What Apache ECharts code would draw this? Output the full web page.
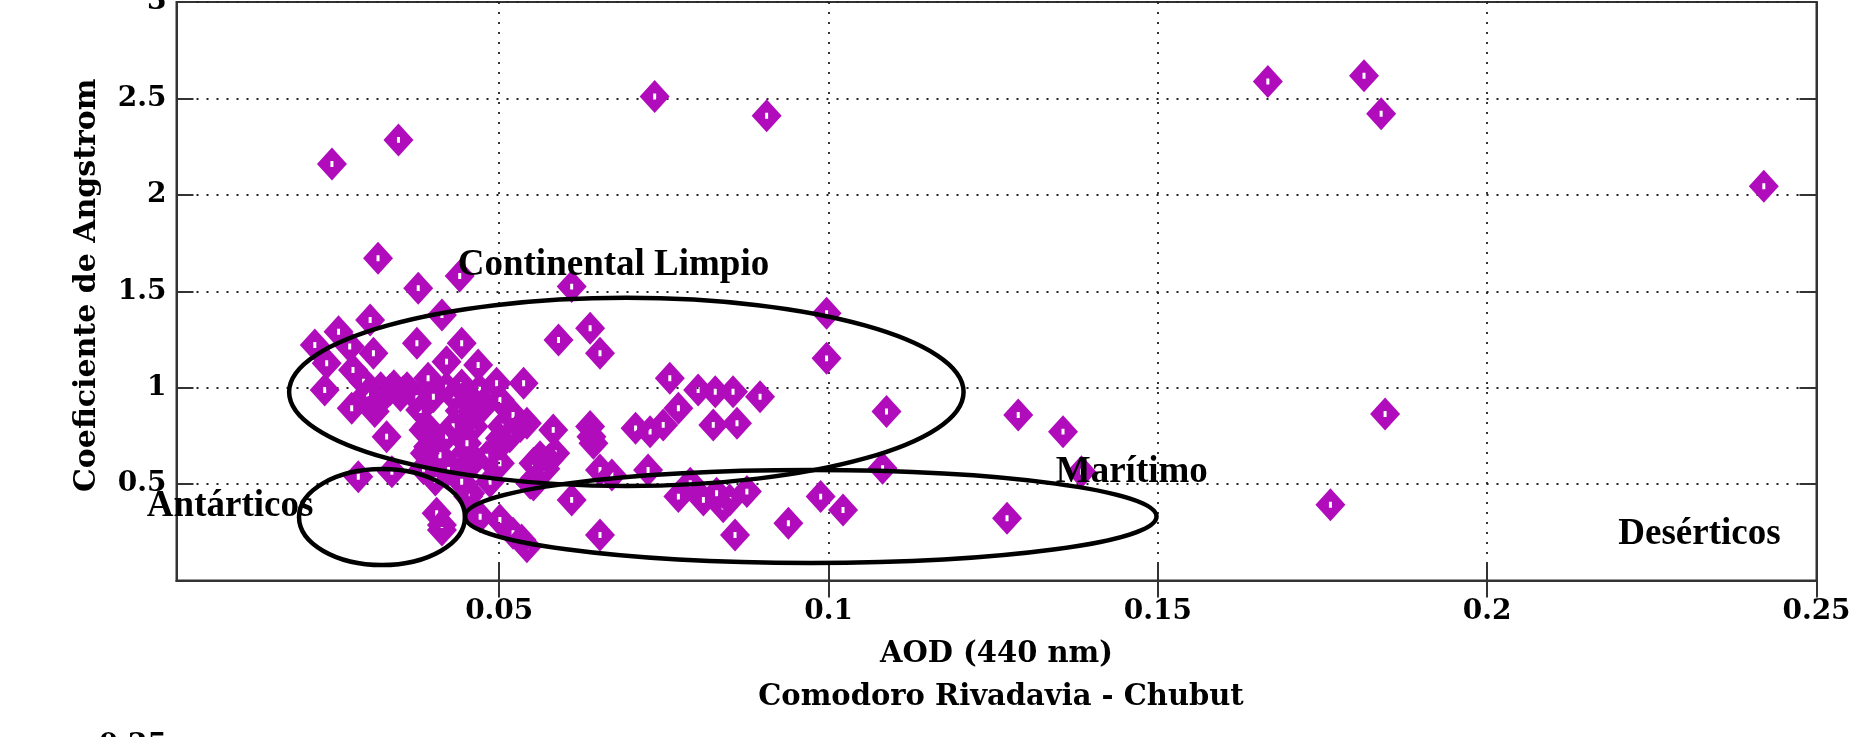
<!DOCTYPE html>
<html><head><meta charset="utf-8">
<script src="https://cdn.jsdelivr.net/npm/echarts@6/dist/echarts.min.js"></script>
<style>html,body{margin:0;padding:0;background:#fff}#c{width:1867px;height:737px}</style>
</head><body><div id="c"></div>
<script>
// AOD (440 nm) values
const aod = [
0.0246,0.0347,0.0736,0.0906,0.1667,0.1813,0.1839,0.2420,0.1845,0.1762,0.1288,0.1356,0.1384,0.1271,0.1088,0.1082,0.0997,0.0997,0.0988,0.1022,0.0939,0.0858,
0.0610,0.0316,0.0377,0.0440,0.0413,0.0590,0.0638,0.0653,0.0759,0.0802,0.0828,0.0855,0.0896,0.0772,0.0825,0.0861,0.0707,0.0729,0.0749,0.0582,0.0638,0.0640,0.0643,0.0537,0.0542,0.0562,0.0575,0.0552,0.0547,0.0653,0.0671,0.0726,0.0610,0.0653,0.0542,0.0772,0.0790,0.0810,0.0830,0.0840,0.0850,0.0876,
0.0220,0.0256,0.0304,0.0375,0.0443,0.0238,0.0273,0.0309,0.0420,0.0468,0.0278,0.0235,0.0294,0.0334,0.0392,0.0443,0.0496,0.0276,0.0311,0.0324,0.0354,0.0375,0.0400,0.0380,0.0453,0.0476,0.0501,0.0521,0.0461,0.0504,0.0532,0.0329,0.0390,0.0392,0.0451,0.0504,0.0516,0.0438,0.0463,0.0481,0.0501,0.0423,0.0286,0.0337,0.0403,0.0443,0.0486,0.0552,0.0453,0.0405,0.0413,0.0471,0.0501,0.0521,
0.0458,0.0385,0.0501,0.0451,0.0456,0.0534,0.0413,0.0471,0.0387,
0.0300,0.0320,0.0340,0.0350,0.0360,0.0315,0.0420,0.0430,0.0450,0.0470,0.0440,0.0460,0.0420,0.0410,0.0430,0.0385,0.0585,0.0570
];
// Angstrom coefficient values
const angstrom = [
2.160,2.285,2.510,2.410,2.588,2.618,2.420,2.045,0.863,0.393,0.858,0.772,0.564,0.323,0.876,0.582,1.386,1.152,0.435,0.366,0.297,0.236,
1.524,1.671,1.516,1.579,1.377,1.247,1.308,1.178,1.049,0.988,0.979,0.979,0.953,0.893,0.807,0.815,0.789,0.772,0.807,0.781,0.798,0.746,0.712,1.023,0.815,0.642,0.625,0.608,0.504,0.573,0.547,0.573,0.418,0.236,0.175,0.435,0.504,0.418,0.452,0.383,0.418,0.461,
1.221,1.290,1.351,1.230,1.230,1.127,1.213,1.178,1.135,1.118,1.092,0.988,1.031,0.988,1.049,1.014,1.023,0.893,0.876,0.953,0.979,0.945,0.953,0.884,0.919,0.919,0.936,0.858,0.798,0.798,0.798,0.746,0.798,0.694,0.712,0.712,0.746,0.625,0.625,0.642,0.608,0.573,0.538,0.564,0.521,0.512,0.512,0.495,0.435,0.349,0.262,0.331,0.314,0.245,
0.876,0.781,0.738,0.608,0.452,0.210,0.288,0.884,0.660,
0.970,1.000,1.010,0.960,1.000,0.920,1.000,0.960,0.970,0.990,0.880,0.860,0.750,0.650,0.800,0.580,0.660,0.580
];
const xTickValues = [0.05, 0.1, 0.15, 0.2, 0.25];
const yTickValues = [0.5, 1, 1.5, 2, 2.5, 3];
const regionNames = ['Continental Limpio', 'Marítimo', 'Antárticos', 'Desérticos'];
const regionLabelAt = [[0.0437, 1.634], [0.1345, 0.560], [-0.0035, 0.386], [0.2199, 0.241]];
const ellipseCentre = [[0.0693, 0.978], [0.0973, 0.332], [0.0322, 0.329]];
const ellipseRadius = [[0.0512, 0.488], [0.0525, 0.241], [0.0126, 0.249]];

const chart = echarts.init(document.getElementById('c'), null, {renderer: 'canvas'});
const tickFont = {fontFamily: 'DejaVu Serif', fontWeight: 'bold', fontSize: 28, color: '#000'};
const nameFont = {fontFamily: 'DejaVu Serif', fontWeight: 'bold', fontSize: 29, color: '#000'};
const yNameFont = {fontFamily: 'DejaVu Serif', fontWeight: 'bold', fontSize: 30, color: '#000', padding: [0, 0, 0, 12]};
const gridLine = {show: true, lineStyle: {color: '#222', width: 1.8, type: [2, 8]}};
const axisLine = {show: true, lineStyle: {color: '#333', width: 2}};
const diamond = 'path://M50,0 L100,50 L50,100 L0,50 Z M45,41 L45,59 L55,59 L55,41 Z';

chart.setOption({
  animation: false,
  backgroundColor: '#fff',
  title: {
    text: 'Comodoro Rivadavia - Chubut',
    left: 996, textAlign: 'center', top: 678,
    textStyle: nameFont
  },
  grid: {left: 176.5, right: 50.5, top: 2, bottom: 156.5, show: true, borderColor: '#333', borderWidth: 2,
         containLabel: false, outerBoundsMode: 'none'},
  xAxis: [{
    type: 'value', min: 0.001, max: 0.25, position: 'bottom',
    name: 'AOD (440 nm)', nameLocation: 'middle', nameGap: 59, nameTextStyle: nameFont,
    axisLine: axisLine,
    axisTick: {show: true, inside: true, length: 17, customValues: xTickValues, lineStyle: {color: '#333', width: 2}},
    axisLabel: Object.assign({margin: 17, customValues: xTickValues}, tickFont),
    splitLine: gridLine
  }, {
    type: 'value', min: 0.001, max: 0.25, position: 'top',
    axisLine: axisLine,
    axisTick: {show: true, inside: true, length: 17, customValues: xTickValues, lineStyle: {color: '#333', width: 2}},
    axisLabel: {show: false}, splitLine: {show: false}
  }],
  yAxis: [{
    type: 'value', min: 0, max: 3, interval: 0.5, position: 'left',
    name: 'Coeficiente de Angstrom', nameLocation: 'middle', nameRotate: 90, nameGap: 74, nameTextStyle: yNameFont,
    axisLine: axisLine,
    axisTick: {show: true, inside: true, length: 17, lineStyle: {color: '#333', width: 2}},
    axisLabel: Object.assign({margin: 10, showMinLabel: false}, tickFont),
    splitLine: gridLine
  }, {
    type: 'value', min: 0, max: 3, interval: 0.5, position: 'right',
    axisLine: axisLine,
    axisTick: {show: true, inside: true, length: 17, lineStyle: {color: '#333', width: 2}},
    axisLabel: {show: false}, splitLine: {show: false}
  }],
  graphic: [{
    type: 'text', x: 167, y: 732, z: 10,
    style: {text: '0.25', fill: '#000', font: 'bold 28px "DejaVu Serif"', textAlign: 'right', textVerticalAlign: 'top', align: 'right', verticalAlign: 'top'}
  }],
  series: [{
    type: 'scatter',
    xAxisIndex: 0, yAxisIndex: 0,
    data: aod.map((x, i) => [x, angstrom[i]]),
    symbol: diamond,
    symbolSize: [30, 33],
    itemStyle: {color: '#b00cbc', opacity: 1},
    z: 2
  }, {
    type: 'custom',
    xAxisIndex: 0, yAxisIndex: 0,
    data: ellipseCentre.map((c, i) => [c[0], c[1], ellipseRadius[i][0], ellipseRadius[i][1]]),
    encode: {x: 0, y: 1},
    clip: false,
    z: 3,
    renderItem: function (params, api) {
      const c = api.coord([api.value(0), api.value(1)]);
      const e = api.coord([api.value(0) + api.value(2), api.value(1) + api.value(3)]);
      return {
        type: 'ellipse',
        shape: {cx: c[0], cy: c[1], rx: Math.abs(e[0] - c[0]), ry: Math.abs(c[1] - e[1])},
        style: {fill: 'none', stroke: '#000', lineWidth: 4.5}
      };
    }
  }, {
    type: 'custom',
    xAxisIndex: 0, yAxisIndex: 0,
    data: regionLabelAt.map(p => [p[0], p[1]]),
    encode: {x: 0, y: 1},
    clip: false,
    z: 4,
    renderItem: function (params, api) {
      const p = api.coord([api.value(0), api.value(1)]);
      return {
        type: 'text', x: p[0], y: p[1],
        style: {
          text: regionNames[params.dataIndex], fill: '#000',
          font: 'bold 37px "Liberation Serif"',
          fontFamily: 'Liberation Serif', fontWeight: 'bold', fontSize: 37,
          textAlign: 'left', textVerticalAlign: 'middle', align: 'left', verticalAlign: 'middle'
        }
      };
    }
  }]
});
</script>
</body></html>
